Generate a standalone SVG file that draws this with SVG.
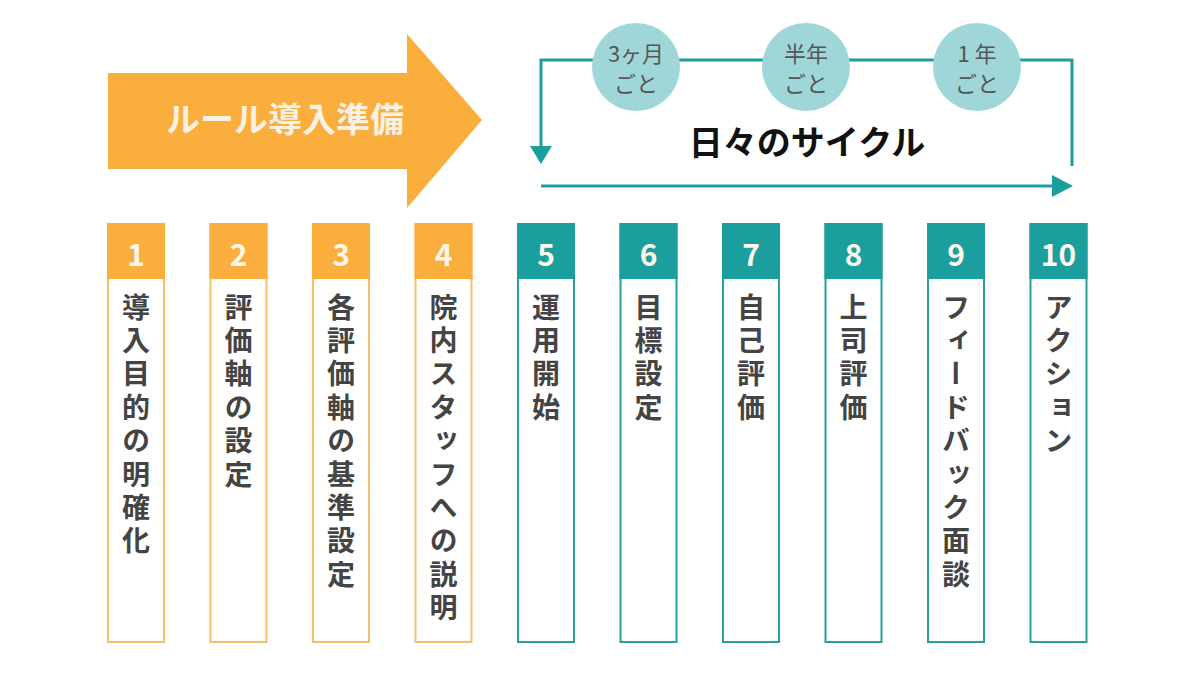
<svg xmlns="http://www.w3.org/2000/svg" width="1200" height="673" viewBox="0 0 1200 673">
<style>
.jp{font-family:"Noto Sans CJK JP","Noto Sans",sans-serif}
.num{font-family:"Noto Sans CJK JP","Noto Sans",sans-serif;font-weight:700;font-size:30px;fill:#FFF6EA;text-anchor:middle}
.vt{font-family:"Noto Sans CJK JP",sans-serif;font-weight:700;font-size:28px;fill:#444;writing-mode:vertical-rl;text-orientation:upright;letter-spacing:5.4px}
.ob{fill:#fff;stroke:#F1C06C;stroke-width:2}
.tb{fill:#fff;stroke:#2A9C9C;stroke-width:2}
.oh{fill:#F9AE3D}
.th{fill:#1A9E9E}
.circ{fill:#9FD7D8}
.ct{font-family:"Noto Sans CJK JP",sans-serif;font-size:22px;fill:#555;text-anchor:middle}
.line{stroke:#1A9E9E;stroke-width:3;fill:none}
</style>
<rect width="1200" height="673" fill="#fff"/>
<g id="prep-arrow">
<polygon points="108,73 407,73 407,34 482,120 407,208 407,169 108,169" fill="#F9AE3D"/>
<text x="285" y="132" class="jp" font-size="34" font-weight="700" fill="#FBF1E3" text-anchor="middle">ルール導入準備</text>
</g>
<g id="connectors">
<polyline class="line" points="541,148 541,60 1072,60 1072,166"/>
<polygon points="530,146 552,146 541,164" fill="#1A9E9E"/>
<line class="line" x1="541" y1="186" x2="1055" y2="186"/>
<polygon points="1052,175 1052,197 1073,186" fill="#1A9E9E"/>
</g>
<g id="cycle-label">
<text x="807" y="155" class="jp" font-size="34" font-weight="700" fill="#111" text-anchor="middle">日々のサイクル</text>
</g>
<g id="c3m"><circle class="circ" cx="636" cy="67" r="44"/><text class="ct" x="636" y="62">3ヶ月</text><text class="ct" x="636" y="92">ごと</text></g>
<g id="c6m"><circle class="circ" cx="806" cy="67" r="44"/><text class="ct" x="806" y="62">半年</text><text class="ct" x="806" y="92">ごと</text></g>
<g id="c1y"><circle class="circ" cx="977" cy="67" r="44"/><text class="ct" x="977" y="62">1 年</text><text class="ct" x="977" y="92">ごと</text></g>

<g id="s1"><rect class="ob" x="108" y="224" width="56" height="418"/><rect class="oh" x="107" y="223" width="58" height="56"/><text class="num" x="136" y="266">1</text><text class="vt" x="136" y="293">導入目的の明確化</text></g>
<g id="s2"><rect class="ob" x="210.5" y="224" width="56" height="418"/><rect class="oh" x="209.5" y="223" width="58" height="56"/><text class="num" x="238.5" y="266">2</text><text class="vt" x="238.5" y="293">評価軸の設定</text></g>
<g id="s3"><rect class="ob" x="313" y="224" width="56" height="418"/><rect class="oh" x="312" y="223" width="58" height="56"/><text class="num" x="341" y="266">3</text><text class="vt" x="341" y="293">各評価軸の基準設定</text></g>
<g id="s4"><rect class="ob" x="415.5" y="224" width="56" height="418"/><rect class="oh" x="414.5" y="223" width="58" height="56"/><text class="num" x="443.5" y="266">4</text><text class="vt" x="443.5" y="293">院内スタッフへの説明</text></g>
<g id="s5"><rect class="tb" x="518" y="224" width="56" height="418"/><rect class="th" x="517" y="223" width="58" height="56"/><text class="num" x="546" y="266">5</text><text class="vt" x="546" y="293">運用開始</text></g>
<g id="s6"><rect class="tb" x="620.5" y="224" width="56" height="418"/><rect class="th" x="619.5" y="223" width="58" height="56"/><text class="num" x="648.5" y="266">6</text><text class="vt" x="648.5" y="293">目標設定</text></g>
<g id="s7"><rect class="tb" x="723" y="224" width="56" height="418"/><rect class="th" x="722" y="223" width="58" height="56"/><text class="num" x="751" y="266">7</text><text class="vt" x="751" y="293">自己評価</text></g>
<g id="s8"><rect class="tb" x="825.5" y="224" width="56" height="418"/><rect class="th" x="824.5" y="223" width="58" height="56"/><text class="num" x="853.5" y="266">8</text><text class="vt" x="853.5" y="293">上司評価</text></g>
<g id="s9"><rect class="tb" x="928" y="224" width="56" height="418"/><rect class="th" x="927" y="223" width="58" height="56"/><text class="num" x="956" y="266">9</text><text class="vt" x="956" y="293">フィードバック面談</text></g>
<g id="s10"><rect class="tb" x="1030.5" y="224" width="56" height="418"/><rect class="th" x="1029.5" y="223" width="58" height="56"/><text class="num" x="1058.5" y="266">10</text><text class="vt" x="1058.5" y="293">アクション</text></g>
</svg>
